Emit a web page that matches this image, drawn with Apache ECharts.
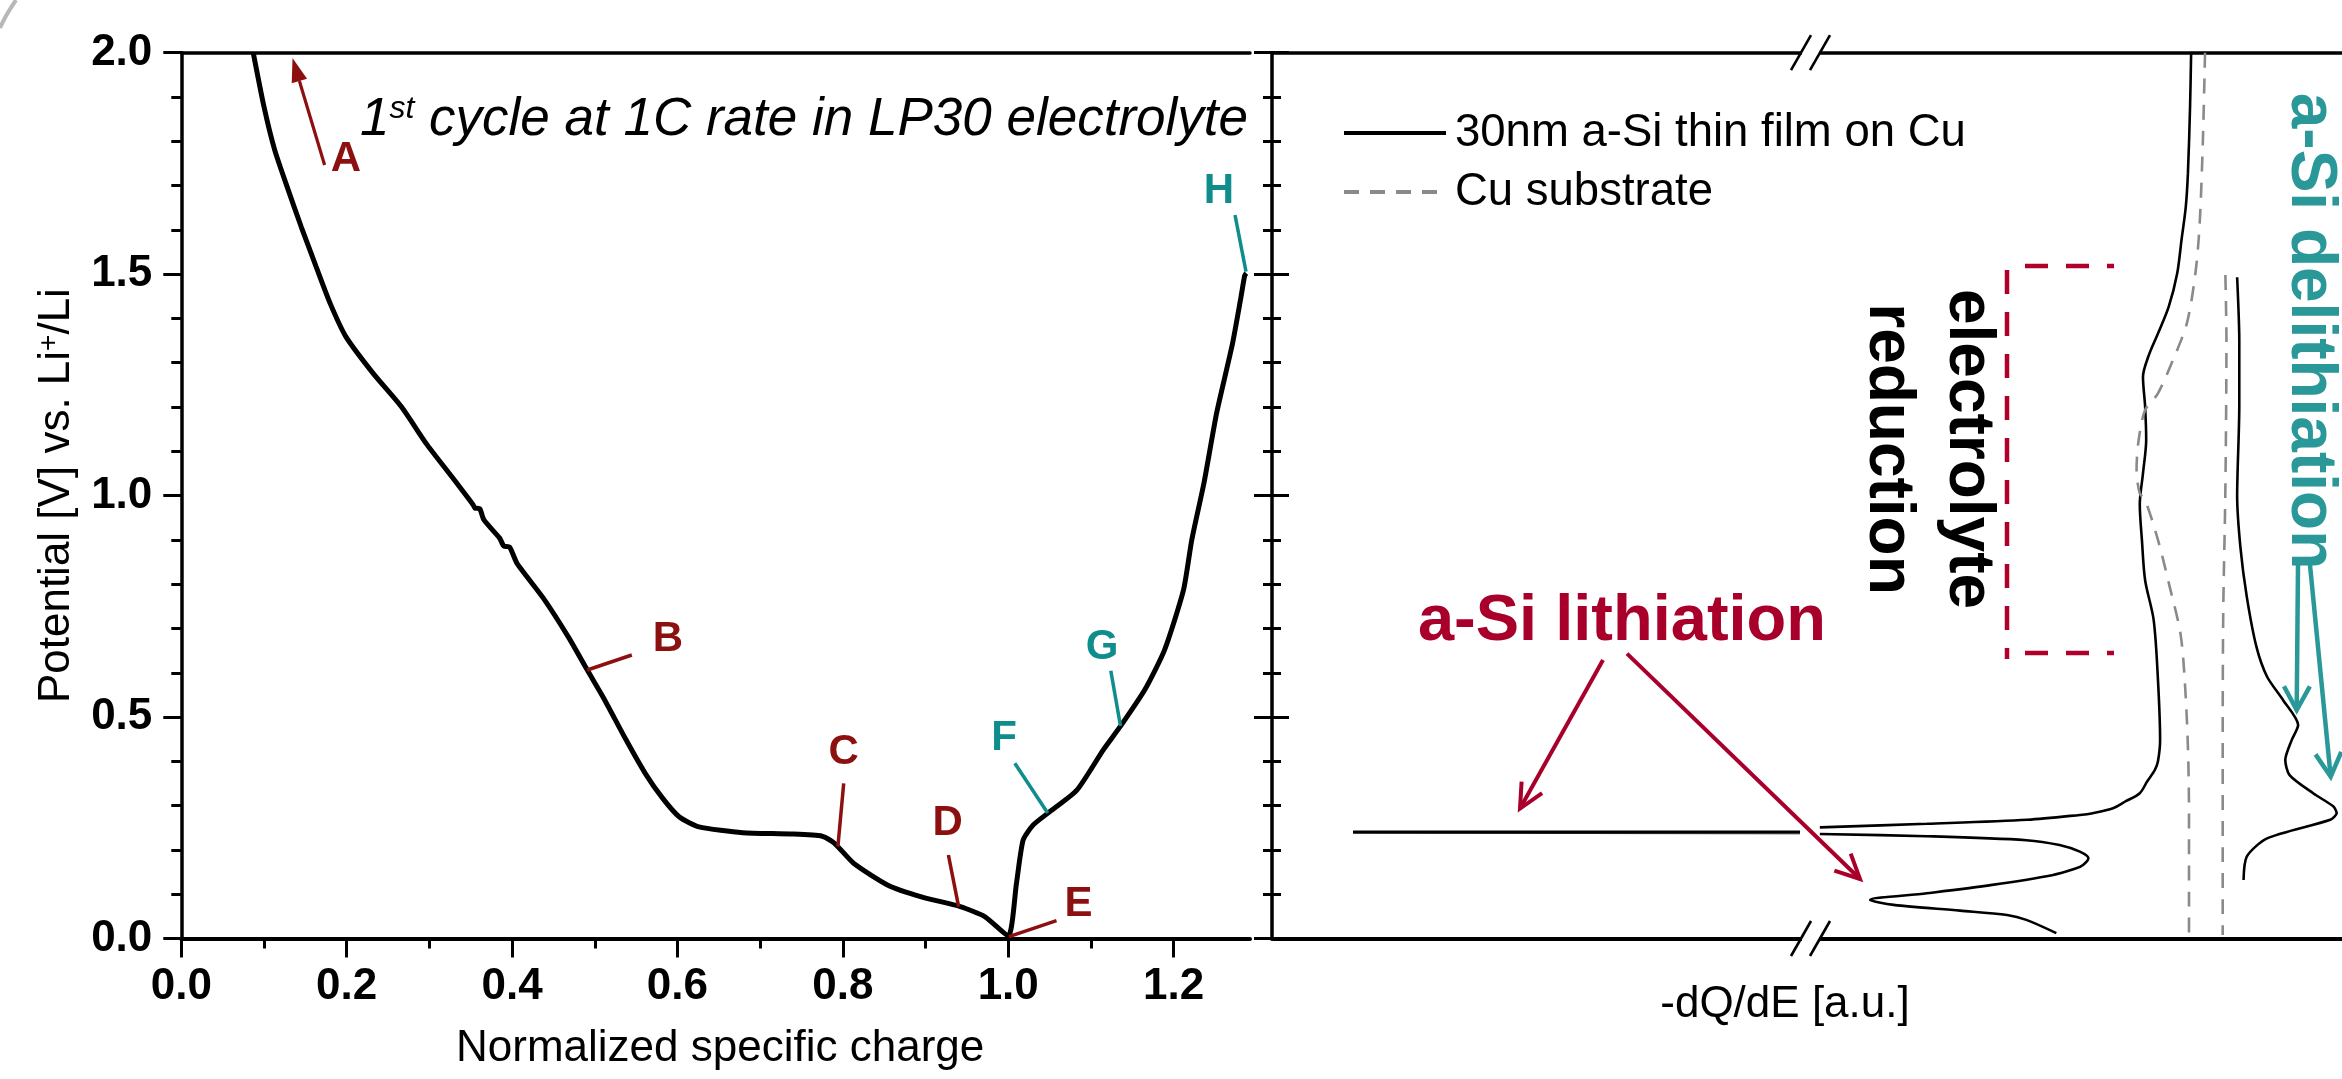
<!DOCTYPE html>
<html><head><meta charset="utf-8">
<script src="https://cdn.jsdelivr.net/npm/echarts@6/dist/echarts.min.js"></script>
<style>html,body{margin:0;padding:0;background:#fff}#c{width:2342px;height:1079px}</style>
</head><body><div id="c"></div>
<script>
// ---------- data: left panel (potential profile, 1st cycle) ----------
const profileCharge = [0.087,0.100,0.113,0.128,0.145,0.163,0.180,0.199,0.232,0.266,0.296,0.327,0.353,0.355,0.361,0.366,0.385,0.390,0.397,0.406,0.438,0.468,0.491,0.511,0.538,0.561,0.582,0.602,0.626,0.679,0.737,0.775,0.790,0.813,0.854,0.895,0.942,0.972,1.000,1.010,1.018,1.030,1.048,1.083,1.115,1.136,1.165,1.189,1.212,1.222,1.237,1.252,1.271,1.281,1.286,1.288];
const profilePotential = [2.000,1.878,1.780,1.697,1.607,1.517,1.434,1.359,1.276,1.201,1.118,1.043,0.979,0.972,0.970,0.945,0.904,0.886,0.884,0.847,0.768,0.681,0.606,0.542,0.448,0.373,0.317,0.275,0.252,0.239,0.236,0.231,0.215,0.170,0.121,0.094,0.072,0.049,0.006,0.125,0.222,0.256,0.283,0.335,0.426,0.480,0.561,0.651,0.787,0.900,1.031,1.186,1.341,1.443,1.497,1.502];

// ---------- data: right panel (-dQ/dE, a.u.) ----------
// a-Si film, lithiation, part above the axis break
const lithPotA = [2.000,1.878,1.728,1.652,1.577,1.502,1.426,1.366,1.314,1.268,1.201,1.126,1.050,0.980,0.900,0.809,0.719,0.584,0.448,0.400,0.380,0.355,0.328,0.310,0.294,0.283,0.279,0.268,0.259,0.251];
const lithDqA  = [85.9,85.8,85.6,85.4,85.0,84.6,83.8,82.8,81.9,81.4,81.6,81.7,81.4,81.1,81.3,81.6,82.4,82.8,83.0,82.8,82.5,81.8,81.1,79.8,78.6,76.7,75.5,70.6,61.2,51.2];
// a-Si film, lithiation plateau beyond the axis break
const lithPotB = [0.2405,0.2400,0.2390];
const lithDqB  = [49.35,7.57,49.35];
// a-Si film, lithiation, part below the plateau
const lithPotC = [0.236,0.231,0.222,0.211,0.196,0.181,0.166,0.158,0.143,0.121,0.102,0.087,0.076,0.063,0.053,0.042,0.012];
const lithDqC  = [51.2,61.2,70.5,73.6,75.5,76.3,75.8,75.1,72.9,67.3,61.2,55.9,58.1,64.3,68.7,70.5,73.3];
// a-Si film, delithiation
const delithPot = [0.132,0.185,0.226,0.268,0.283,0.298,0.328,0.369,0.403,0.448,0.482,0.538,0.591,0.659,0.772,0.885,1.000,1.200,1.351,1.493];
const delithDq  = [90.8,91.1,93.0,98.9,99.5,99.2,97.3,95.1,94.7,95.3,95.9,94.5,93.0,92.0,91.1,90.5,90.2,90.4,90.4,90.2];
// Cu substrate, reduction
const cuRedPot = [2.000,1.803,1.615,1.502,1.389,1.306,1.231,1.193,1.126,1.058,1.005,0.990,0.900,0.794,0.689,0.584,0.433,0.283,0.012];
const cuRedDq  = [87.2,87.0,86.7,86.3,85.5,84.2,82.8,81.6,81.0,80.8,81.1,81.6,82.8,83.9,84.9,85.3,85.6,85.7,85.7];
// Cu substrate, oxidation
const cuOxPot = [1.498,1.351,1.013,0.734,0.433,0.008];
const cuOxDq  = [89.1,89.2,89.1,88.9,88.85,88.85];

// ---------- ticks ----------
const xMajorTicks = [0,0.2,0.4,0.6,0.8,1.0,1.2];
const xMinorTicks = [0.1,0.3,0.5,0.7,0.9,1.1];
const yTickLabels = [0,0.5,1.0,1.5,2.0];

const FONT = "'Liberation Sans', Arial, Helvetica, sans-serif";
const DRED = '#8c1010', TEAL = '#0f8c8c', CRIMSON = '#a8002a', TEAL2 = '#2a9898';
const X_MAX = 1.2924;

const zip = (a, b) => a.map((v, i) => [v, b[i]]);

function line(x1, y1, x2, y2, color, w, dash) {
  return {type: 'line', shape: {x1, y1, x2, y2}, style: {stroke: color, lineWidth: w, lineDash: dash || null, lineCap: 'butt'}, z: 50};
}
function openArrow(x1, y1, x2, y2, color, w, len, ang) {
  const a = Math.atan2(y1 - y2, x1 - x2);
  const p1 = [x2 + len * Math.cos(a + ang), y2 + len * Math.sin(a + ang)];
  const p2 = [x2 + len * Math.cos(a - ang), y2 + len * Math.sin(a - ang)];
  return [line(x1, y1, x2, y2, color, w),
    {type: 'polyline', shape: {points: [p1, [x2, y2], p2]}, style: {stroke: color, lineWidth: w, fill: null, lineJoin: 'miter'}, z: 50}];
}
function filledArrow(x1, y1, x2, y2, color, w, len, half) {
  const a = Math.atan2(y1 - y2, x1 - x2);
  const bx = x2 + len * Math.cos(a), by = y2 + len * Math.sin(a);
  const px = -Math.sin(a) * half, py = Math.cos(a) * half;
  return [line(x1, y1, bx, by, color, w),
    {type: 'polygon', shape: {points: [[x2, y2], [bx + px, by + py], [bx - px, by - py]]}, style: {fill: color}, z: 50}];
}
function label(t, x, y, color, size, extra) {
  return Object.assign({type: 'text', x, y, z: 60, style: {text: t, fill: color, font: 'bold ' + (size || 42) + 'px ' + FONT, align: 'center', verticalAlign: 'middle'}}, extra || {});
}

const blackLine = {color: '#000', width: 2.6};
const greyDash = {color: '#8a8a8a', width: 2.6, type: [15, 11]};
const LEG1 = '30nm a-Si thin film on Cu', LEG2 = 'Cu substrate';

const graphics = [].concat(
  // grey arc remnant at top-left corner
  [{type: 'bezierCurve', shape: {x1: 0, y1: 28, x2: 16, y2: 0, cpx1: 5, cpy1: 16}, style: {stroke: '#b8b8b8', lineWidth: 4, fill: null}}],
  // title
  [{type: 'text', x: 360, y: 120, z: 60, style: {
    text: '{a|1}{s|st}{a| cycle at 1C rate in LP30 electrolyte}', align: 'left', verticalAlign: 'middle',
    rich: {a: {font: 'italic 53px ' + FONT, fill: '#000', lineHeight: 53}, s: {font: 'italic 32px ' + FONT, fill: '#000', verticalAlign: 'top', lineHeight: 32}}}}],
  // letter annotations
  filledArrow(324.6, 165, 292.5, 58, DRED, 3.2, 24, 8),
  [label('A', 346, 159, DRED)],
  [line(587.3, 670, 631.8, 655, DRED, 3.5), label('B', 668, 639, DRED)],
  [line(837.9, 846.7, 843.7, 783.3, DRED, 3.5), label('C', 843.7, 752.5, DRED)],
  [line(958.6, 906.7, 948.4, 855, DRED, 3.5), label('D', 947.7, 823, DRED)],
  [line(1009, 936.7, 1056.5, 920.7, DRED, 3.5), label('E', 1078.5, 904, DRED)],
  [line(1047.7, 813, 1014.8, 763.3, TEAL, 3.5), label('F', 1004, 738.5, TEAL)],
  [line(1120.5, 726, 1110.8, 670.7, TEAL, 3.5), label('G', 1102, 647.5, TEAL)],
  [line(1246, 271.7, 1235, 215, TEAL, 3.5), label('H', 1219, 191, TEAL)],
  // axis break marks
  [52.7, 938.5].reduce((acc, y) => acc.concat([
    {type: 'rect', shape: {x: 1802, y: y - 4, width: 17, height: 8}, style: {fill: '#fff'}, z: 40},
    line(1791, y + 17.5, 1811, y - 17.5, '#000', 2.6),
    line(1810, y + 17.5, 1830, y - 17.5, '#000', 2.6)
  ]), []),
  // electrolyte reduction bracket
  [line(2025, 266, 2114, 266, '#b0002a', 4.5, [23, 18]),
   line(2007, 270, 2007, 659, '#b0002a', 4.5, [24, 18]),
   line(2025, 653, 2114, 653, '#b0002a', 4.5, [23, 18])],
  [label('electrolyte', 1968, 449, '#000', 64, {rotation: -Math.PI / 2}),
   label('reduction', 1888, 449, '#000', 64, {rotation: -Math.PI / 2})],
  // a-Si lithiation
  [label('a-Si lithiation', 1622, 622, CRIMSON, 65)],
  openArrow(1603, 660, 1520, 808.6, CRIMSON, 4, 27, 0.45),
  openArrow(1627, 653.6, 1860, 879, CRIMSON, 4, 27, 0.45),
  // a-Si delithiation
  [label('a-Si delithiation', 2310, 331, TEAL2, 64, {rotation: -Math.PI / 2})],
  openArrow(2298, 565, 2296.7, 710, TEAL2, 4.5, 27, 0.5),
  openArrow(2310, 565, 2330.7, 776.7, TEAL2, 4.5, 27, 0.5)
);

const option = {
  animation: false,
  backgroundColor: '#fff',
  grid: [
    {left: 181.3, top: 52.7, width: 1068.7, height: 885.8},
    {left: 1272, top: 52.7, width: 1070, height: 885.8}
  ],
  legend: {
    data: [LEG1, LEG2], orient: 'vertical', left: 1337, top: 105,
    itemWidth: 102, itemHeight: 14, itemGap: 13,
    itemStyle: {opacity: 0},
    lineStyle: {width: 4},
    textStyle: {fontSize: 45.5, fontFamily: FONT, color: '#000', lineHeight: 44, padding: [0, 0, 0, 4]}
  },
  xAxis: [
    {gridIndex: 0, type: 'value', min: 0, max: X_MAX, position: 'bottom',
     axisLine: {show: true, onZero: false, lineStyle: {color: '#000', width: 4}},
     axisTick: {show: true, customValues: xMajorTicks, length: 19, lineStyle: {color: '#000', width: 3}},
     axisLabel: {show: true, customValues: xMajorTicks, formatter: v => v.toFixed(1), margin: 26,
                 fontSize: 44, fontWeight: 'bold', fontFamily: FONT, color: '#000'},
     splitLine: {show: false},
     name: 'Normalized specific charge', nameLocation: 'middle', nameGap: 88,
     nameTextStyle: {fontSize: 44, fontFamily: FONT, color: '#000', padding: [0, 0, 0, 9]}},
    {gridIndex: 0, type: 'value', min: 0, max: X_MAX, position: 'bottom',
     axisLine: {show: false, onZero: false},
     axisTick: {show: true, customValues: xMinorTicks, length: 10, lineStyle: {color: '#000', width: 3}},
     axisLabel: {show: false}, splitLine: {show: false}},
    {gridIndex: 0, type: 'value', min: 0, max: X_MAX, position: 'top',
     axisLine: {show: true, onZero: false, lineStyle: {color: '#000', width: 3.5}},
     axisTick: {show: false}, axisLabel: {show: false}, splitLine: {show: false}},
    {gridIndex: 1, type: 'value', min: 0, max: 100, position: 'bottom',
     axisLine: {show: true, onZero: false, lineStyle: {color: '#000', width: 4}},
     axisTick: {show: false}, axisLabel: {show: false}, splitLine: {show: false},
     name: '-dQ/dE [a.u.]', nameLocation: 'middle', nameGap: 44,
     nameTextStyle: {fontSize: 44, fontFamily: FONT, color: '#000', padding: [0, 44, 0, 0]}},
    {gridIndex: 1, type: 'value', min: 0, max: 100, position: 'top',
     axisLine: {show: true, onZero: false, lineStyle: {color: '#000', width: 3.5}},
     axisTick: {show: false}, axisLabel: {show: false}, splitLine: {show: false}}
  ],
  yAxis: [
    {gridIndex: 0, type: 'value', min: 0, max: 2, interval: 0.5, position: 'left',
     axisLine: {show: true, onZero: false, lineStyle: {color: '#000', width: 3.5}},
     axisTick: {show: true, inside: false, length: 18, lineStyle: {color: '#000', width: 3}},
     minorTick: {show: true, splitNumber: 5, length: 10, lineStyle: {color: '#000', width: 3}},
     axisLabel: {formatter: v => v.toFixed(1), margin: 29, fontSize: 44, fontWeight: 'bold', fontFamily: FONT, color: '#000'},
     splitLine: {show: false}, minorSplitLine: {show: false},
     name: 'Potential [V] vs. Li{s|+}/Li', nameLocation: 'middle', nameGap: 102,
     nameTextStyle: {fontSize: 44, fontFamily: FONT, color: '#000',
       rich: {s: {fontSize: 28, fontFamily: FONT, color: '#000', verticalAlign: 'top', lineHeight: 28}}}},
    {gridIndex: 1, type: 'value', min: 0, max: 2, interval: 0.5, position: 'left',
     axisLine: {show: true, onZero: false, lineStyle: {color: '#000', width: 3.5}},
     axisTick: {show: true, inside: false, length: 18, lineStyle: {color: '#000', width: 3}},
     minorTick: {show: true, splitNumber: 5, length: 9, lineStyle: {color: '#000', width: 3}},
     axisLabel: {show: false}, splitLine: {show: false}},
    {gridIndex: 1, type: 'value', min: 0, max: 2, interval: 0.5, position: 'left',
     axisLine: {show: false, onZero: false},
     axisTick: {show: true, inside: true, length: 17, lineStyle: {color: '#000', width: 3}},
     minorTick: {show: true, splitNumber: 5, length: 9, lineStyle: {color: '#000', width: 3}},
     axisLabel: {show: false}, splitLine: {show: false}}
  ],
  series: [
    {name: 'Potential profile', type: 'line', xAxisIndex: 0, yAxisIndex: 0, data: zip(profileCharge, profilePotential),
     symbol: 'none', smooth: 0.2, lineStyle: {color: '#000', width: 5}},
    {name: LEG1, type: 'line', xAxisIndex: 3, yAxisIndex: 1, data: zip(lithDqA, lithPotA),
     symbol: 'none', smooth: 0.3, color: '#000', lineStyle: blackLine},
    {name: LEG1, type: 'line', xAxisIndex: 3, yAxisIndex: 1, data: zip(lithDqB, lithPotB),
     symbol: 'none', smooth: false, color: '#000', lineStyle: {color: '#000', width: 3.2}},
    {name: LEG1, type: 'line', xAxisIndex: 3, yAxisIndex: 1, data: zip(lithDqC, lithPotC),
     symbol: 'none', smooth: 0.3, color: '#000', lineStyle: blackLine},
    {name: LEG1, type: 'line', xAxisIndex: 3, yAxisIndex: 1, data: zip(delithDq, delithPot),
     symbol: 'none', smooth: 0.25, color: '#000', lineStyle: blackLine},
    {name: LEG2, type: 'line', xAxisIndex: 3, yAxisIndex: 1, data: zip(cuRedDq, cuRedPot),
     symbol: 'none', smooth: 0.3, color: '#8a8a8a', lineStyle: greyDash},
    {name: LEG2, type: 'line', xAxisIndex: 3, yAxisIndex: 1, data: zip(cuOxDq, cuOxPot),
     symbol: 'none', smooth: 0.3, color: '#8a8a8a', lineStyle: greyDash}
  ],
  graphic: graphics
};

const chart = echarts.init(document.getElementById('c'), null, {renderer: 'canvas'});
chart.setOption(option);
</script>
</body></html>
